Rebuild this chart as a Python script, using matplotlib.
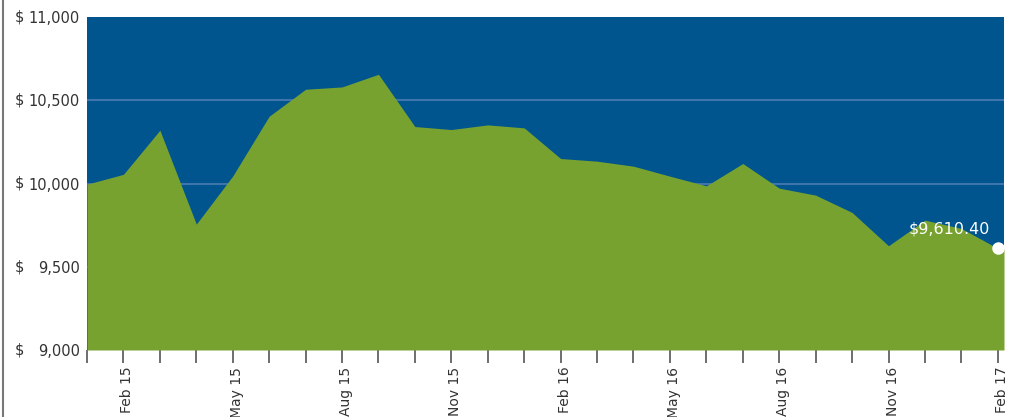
import matplotlib
matplotlib.use("Agg")
import matplotlib.pyplot as plt
import matplotlib.transforms as mtransforms
from matplotlib.lines import Line2D

# データ（月次の評価額）
months = ["Jan 15", "Feb 15", "Mar 15", "Apr 15", "May 15", "Jun 15", "Jul 15",
          "Aug 15", "Sep 15", "Oct 15", "Nov 15", "Dec 15", "Jan 16", "Feb 16",
          "Mar 16", "Apr 16", "May 16", "Jun 16", "Jul 16", "Aug 16", "Sep 16",
          "Oct 16", "Nov 16", "Dec 16", "Jan 17", "Feb 17"]
values = [9996, 10055, 10320, 9756, 10045, 10404, 10566, 10580, 10656, 10342,
          10324, 10352, 10334, 10150, 10134, 10104, 10044, 9986, 10120, 9972,
          9930, 9826, 9626, 9780, 9730, 9610.40]
yticks = [9000, 9500, 10000, 10500, 11000]
tick_every = 3

blue = "#00558F"
green = "#78A22F"
grid_color = "#3F74AC"
text_color = "#333333"

plt.rcParams['font.family'] = ['DejaVu Sans']

fig = plt.figure(figsize=(10.11, 4.17), dpi=100)
ax = fig.add_axes([87 / 1011, 1 - 350 / 417, 917 / 1011, 333 / 417])
ax.set_facecolor(blue)

x = list(range(len(values)))
xmax = len(values) - 1 + 0.17
for v in yticks[1:-1]:
    ax.axhline(v, color=grid_color, lw=1.5, zorder=1)
# 面グラフ（最後の値を右端まで延長）
ax.fill_between(x + [xmax], values + [values[-1]], yticks[0],
                color=green, lw=0, zorder=2)

ax.set_ylim(yticks[0], yticks[-1])
ax.set_xlim(0, xmax)

for s in ax.spines.values():
    s.set_visible(False)

# y軸ラベル：$ を左寄せ、数値を右寄せ
ax.set_yticks(yticks)
ax.set_yticklabels([f"{v:,}" for v in yticks])
ax.tick_params(axis='y', length=0, pad=5, labelsize=10.5, labelcolor=text_color)
trans = mtransforms.blended_transform_factory(fig.transFigure, ax.transData)
for v in yticks:
    ax.text(15 / 1011, v, "$", transform=trans, ha='left', va='center',
            fontsize=10.5, color=text_color)

# x軸：毎月の目盛り、3か月ごとのラベル
ax.set_xticks(x)
ax.set_xticklabels([m if (i % tick_every == 1) else "" for i, m in enumerate(months)],
                   rotation=90, va='top', ha='center')
ax.tick_params(axis='x', length=9, width=1.2, color="#555555", pad=3,
               labelsize=10, labelcolor=text_color, direction='out')
offset = mtransforms.ScaledTranslation(4 / 100, 0, fig.dpi_scale_trans)
for lbl in ax.get_xticklabels():
    lbl.set_transform(lbl.get_transform() + offset)

# 最終値の注記
ax.plot(x[-1], values[-1], 'o', color='white', ms=8, zorder=4, clip_on=False)
ax.annotate(f"${values[-1]:,.2f}", (x[-1], values[-1]), xytext=(-35, 14),
            textcoords='offset points', ha='center', va='center',
            color='white', fontsize=11.5, zorder=5)

# 左端の縦線
fig.add_artist(Line2D([3 / 1011, 3 / 1011], [0, 1], color="#777777", lw=1.5))

fig.savefig("out.png", dpi=100)
